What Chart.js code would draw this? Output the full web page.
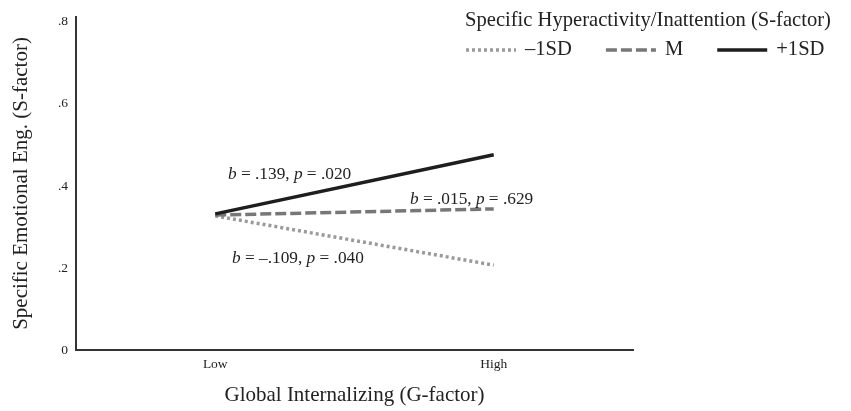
<!DOCTYPE html>
<html><head><meta charset="utf-8">
<script src="https://cdn.jsdelivr.net/npm/chart.js@4"></script>
<style>html,body{margin:0;padding:0;background:#fff}#wrap{width:851px;height:411px;position:relative}</style>
</head><body><div id="wrap"><canvas id="c" width="851" height="411"></canvas></div>
<script>
// ---- data ----
const categories = ['Low', 'High'];
const seriesLabels = ['\u20131SD', 'M', '+1SD'];
const minus1SD = [0.327, 0.207];
const meanM = [0.329, 0.344];
const plus1SD = [0.332, 0.476];
const yTicks = [0, 0.2, 0.4, 0.6, 0.8];
const legendTitle = 'Specific Hyperactivity/Inattention (S-factor)';
const xTitle = 'Global Internalizing (G-factor)';
const yTitle = 'Specific Emotional Eng. (S-factor)';
const slopeTexts = [
  ['b', ' = .139, ', 'p', ' = .020'],
  ['b', ' = .015, ', 'p', ' = .629'],
  ['b', ' = \u2013.109, ', 'p', ' = .040']
];

const SERIF = '"Liberation Serif", "Times New Roman", serif';

// annotation placement (pixels relative to chart area)
const annotPos = [
  {dx: 152, y: 174},
  {dx: 334, y: 199},
  {dx: 156, y: 258}
];

const annotPlugin = {
  id: 'annot',
  afterDatasetsDraw(chart) {
    const ctx = chart.ctx;
    const area = chart.chartArea;
    ctx.save();
    ctx.fillStyle = '#222';
    ctx.textBaseline = 'middle';
    slopeTexts.forEach((segs, i) => {
      let x = area.left + annotPos[i].dx;
      const y = annotPos[i].y;
      segs.forEach((s, k) => {
        ctx.font = (k % 2 === 0 ? 'italic ' : '') + '17.3px ' + SERIF;
        ctx.fillText(s, x, y);
        x += ctx.measureText(s).width;
      });
    });
    ctx.restore();
  }
};

const legendPlugin = {
  id: 'customLegend',
  afterDraw(chart) {
    const ctx = chart.ctx;
    ctx.save();
    ctx.fillStyle = '#222';
    ctx.textBaseline = 'middle';
    ctx.font = '20.6px ' + SERIF;
    ctx.fillText(legendTitle, 465, 21);
    let x = 466;
    const y = 50;
    chart.data.datasets.forEach(ds => {
      ctx.save();
      ctx.strokeStyle = ds.borderColor;
      ctx.lineWidth = ds.borderWidth;
      ctx.setLineDash(ds.borderDash || []);
      ctx.beginPath();
      ctx.moveTo(x, y);
      ctx.lineTo(x + 50, y);
      ctx.stroke();
      ctx.restore();
      x += 59;
      ctx.fillText(ds.label, x, y);
      x += ctx.measureText(ds.label).width + 34;
    });
    ctx.restore();
  }
};

new Chart(document.getElementById('c'), {
  type: 'line',
  data: {
    labels: categories,
    datasets: [
      {label: seriesLabels[0], data: minus1SD, borderColor: '#9a9a9a', borderWidth: 3.5, borderDash: [3, 3], pointRadius: 0, order: 3, tension: 0},
      {label: seriesLabels[1], data: meanM, borderColor: '#777777', borderWidth: 3.5, borderDash: [11, 4], pointRadius: 0, order: 2, tension: 0},
      {label: seriesLabels[2], data: plus1SD, borderColor: '#1e1e1e', borderWidth: 3.5, pointRadius: 0, order: 1, tension: 0}
    ]
  },
  options: {
    responsive: false,
    animation: false,
    layout: {padding: {top: 17, right: 218, left: 0, bottom: 0}},
    plugins: {legend: {display: false}, tooltip: {enabled: false}},
    scales: {
      x: {
        type: 'category',
        offset: true,
        grid: {display: false, drawTicks: false},
        border: {display: true, color: '#333', width: 2},
        ticks: {color: '#222', font: {family: SERIF, size: 13.5}, padding: 6, maxRotation: 0},
        title: {display: true, text: xTitle, color: '#222', font: {family: SERIF, size: 21}, padding: {top: 0, bottom: 3}},
        afterFit(scale) { scale.height = 61; }
      },
      y: {
        min: 0,
        max: 0.812,
        grid: {display: false, drawTicks: false},
        border: {display: true, color: '#333', width: 2},
        afterBuildTicks(scale) { scale.ticks = yTicks.map(v => ({value: v})); },
        ticks: {
          color: '#222', font: {family: SERIF, size: 13.5}, padding: 8,
          callback: v => (v === 0 ? '0' : String(Number(v.toFixed(1))).replace(/^0/, ''))
        },
        title: {display: true, text: yTitle, color: '#222', font: {family: SERIF, size: 21}, padding: {top: 9, bottom: 0}},
        afterFit(scale) { scale.width = 76; }
      }
    }
  },
  plugins: [annotPlugin, legendPlugin]
});
</script>
</body></html>
